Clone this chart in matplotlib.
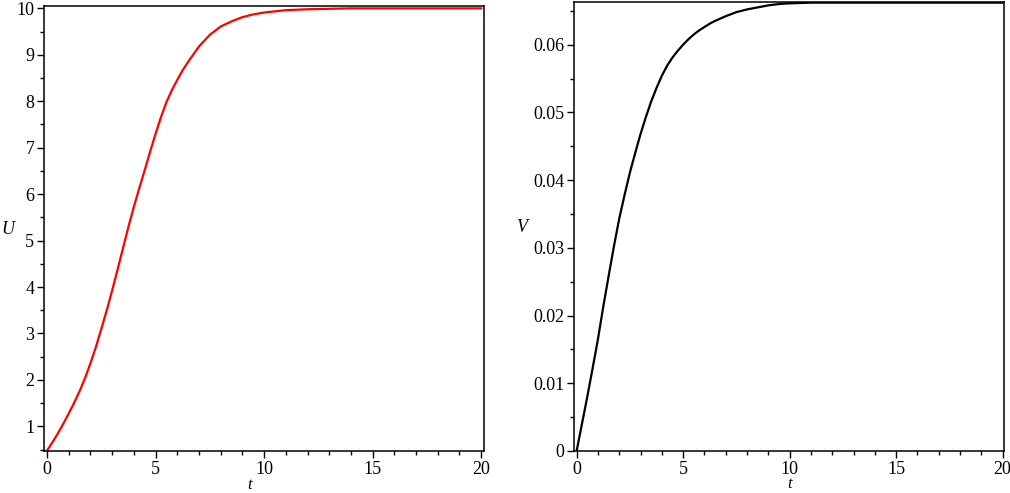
import matplotlib
matplotlib.use('Agg')
import matplotlib.pyplot as plt
from matplotlib.ticker import MultipleLocator, FuncFormatter

# values
t = [0, 0.25, 0.5, 0.75, 1, 1.25, 1.5, 1.75, 2, 2.25, 2.5, 2.75, 3, 3.25, 3.5, 3.75,
     4, 4.25, 4.5, 4.75, 5, 5.25, 5.5, 5.75, 6, 6.25, 6.5, 7, 7.5, 8, 8.5, 9, 9.5, 10,
     11, 12, 13, 14, 15, 16, 17, 18, 19, 20]
U = [0.48, 0.66, 0.85, 1.06, 1.28, 1.51, 1.76, 2.04, 2.36, 2.71, 3.10, 3.50, 3.93, 4.38,
     4.84, 5.30, 5.73, 6.13, 6.52, 6.92, 7.30, 7.66, 7.98, 8.24, 8.46, 8.67, 8.85, 9.18,
     9.43, 9.61, 9.72, 9.81, 9.87, 9.91, 9.96, 9.98, 9.99, 10.0, 10.0, 10.0, 10.0, 10.0,
     10.0, 10.0]
V = [0.0, 0.0040, 0.0080, 0.0122, 0.0165, 0.0213, 0.0258, 0.0302, 0.0343, 0.0378, 0.0411,
     0.0440, 0.0468, 0.0493, 0.0516, 0.0536, 0.0554, 0.0569, 0.0581, 0.0591, 0.0600,
     0.0608, 0.0615, 0.0621, 0.0626, 0.0631, 0.0635, 0.0642, 0.0648, 0.0652, 0.0655,
     0.0658, 0.0660, 0.0661, 0.0662, 0.0662, 0.0662, 0.0662, 0.0662, 0.0662, 0.0662,
     0.0662, 0.0662, 0.0662]

plt.rcParams['font.family'] = 'Liberation Serif'
plt.rcParams['font.size'] = 13

fig = plt.figure(figsize=(10.1, 4.93), dpi=100)
ax1 = fig.add_axes([0.0436, 0.0852, 0.4354, 0.9026])
ax2 = fig.add_axes([0.5686, 0.0852, 0.4254, 0.9108])


def style(ax):
    for s in ax.spines.values():
        s.set_linewidth(1.1)
    ax.xaxis.set_major_locator(MultipleLocator(5))
    ax.xaxis.set_minor_locator(MultipleLocator(1))
    ax.tick_params(which='major', direction='out', length=5, width=1, pad=2,
                   top=False, right=False)
    ax.tick_params(which='minor', direction='out', length=3, width=1,
                   top=False, right=False)


ax1.plot(t, U, color='red', lw=1.6)
ax1.set_xlim(-0.14, 20.12)
ax1.set_ylim(0.47, 10.05)
ax1.yaxis.set_major_locator(MultipleLocator(1))
ax1.yaxis.set_minor_locator(MultipleLocator(0.5))
style(ax1)
ax1.set_ylabel('U', rotation=0, style='italic', va='center', ha='center')
ax1.yaxis.set_label_coords(-0.082, 0.497)
ax1.set_xlabel('t', style='italic', va='center', fontsize=12)
ax1.xaxis.set_label_coords(0.468, -0.0753)

ax2.plot(t, V, color='black', lw=1.6)
ax2.set_xlim(-0.11, 20.06)
ax2.set_ylim(0, 0.0663)
ax2.yaxis.set_major_locator(MultipleLocator(0.01))
ax2.yaxis.set_minor_locator(MultipleLocator(0.005))
ax2.yaxis.set_major_formatter(FuncFormatter(lambda v, p: '%g' % round(v, 4)))
style(ax2)
ax2.set_ylabel('V', rotation=0, style='italic', va='center', ha='center')
ax2.yaxis.set_label_coords(-0.122, 0.497)
ax2.set_xlabel('t', style='italic', va='center', fontsize=12)
ax2.xaxis.set_label_coords(0.502, -0.0746)

fig.savefig('out.png', dpi=100)
